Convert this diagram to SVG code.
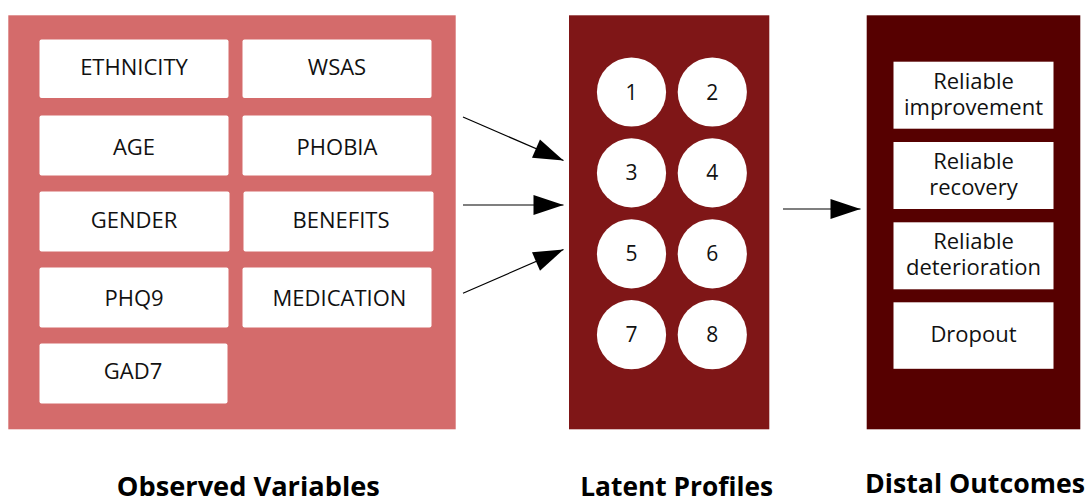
<svg xmlns="http://www.w3.org/2000/svg" width="1091" height="501" viewBox="0 0 1091 501">
  <style>
    .panel-obs { fill: #d46b6b; }
    .panel-lat { fill: #7f1617; }
    .panel-out { fill: #560000; }
    .var { fill: #ffffff; }
    .prof { fill: #ffffff; }
    .outc { fill: #ffffff; }
    .t { font-family: "Open Sans", "DejaVu Sans", sans-serif; font-size: 22px; fill: #111111; text-anchor: middle; }
    .num { font-family: "Open Sans", "DejaVu Sans", sans-serif; font-size: 21px; fill: #111111; text-anchor: middle; }
    .title { font-family: "Open Sans", "DejaVu Sans", sans-serif; font-size: 27px; font-weight: bold; fill: #000000; text-anchor: middle; }
    .conn { stroke: #000000; stroke-width: 1.2; fill: none; marker-end: url(#head); }
  </style>
  <defs>
    <marker id="head" markerUnits="userSpaceOnUse" markerWidth="30" markerHeight="20" refX="30" refY="10" orient="auto" overflow="visible">
      <path d="M0,0 L30,10 L0,20 z" fill="#000000"/>
    </marker>
  </defs>

  <!-- observed variables: 2-column grid of white cards on a pink panel -->
  <g id="observed-variables">
    <rect class="panel-obs" x="8.3" y="15.3" width="447.4" height="414"/>
    <g id="var-ethnicity"><rect class="var" x="39.5" y="39.5" width="189" height="58.5" rx="2"/><text class="t" x="134" y="75">ETHNICITY</text></g>
    <g id="var-wsas"><rect class="var" x="242.5" y="39.5" width="189" height="58.5" rx="2"/><text class="t" x="337" y="75">WSAS</text></g>
    <g id="var-age"><rect class="var" x="39.5" y="115.5" width="189" height="60" rx="2"/><text class="t" x="134" y="154.5">AGE</text></g>
    <g id="var-phobia"><rect class="var" x="242.5" y="115.5" width="189" height="60" rx="2"/><text class="t" x="337" y="154.5">PHOBIA</text></g>
    <g id="var-gender"><rect class="var" x="39.5" y="191.5" width="190" height="60" rx="2"/><text class="t" x="134" y="228">GENDER</text></g>
    <g id="var-benefits"><rect class="var" x="243.5" y="191.5" width="190" height="60" rx="2"/><text class="t" x="341" y="228">BENEFITS</text></g>
    <g id="var-phq9"><rect class="var" x="39.5" y="267.5" width="189" height="60" rx="2"/><text class="t" x="134" y="305.5">PHQ9</text></g>
    <g id="var-medication"><rect class="var" x="242.5" y="267.5" width="189" height="60" rx="2"/><text class="t" x="339.5" y="305.5">MEDICATION</text></g>
    <g id="var-gad7"><rect class="var" x="39.5" y="343.5" width="188" height="60" rx="2"/><text class="t" x="133" y="379">GAD7</text></g>
  </g>

  <!-- latent profiles: 4x2 grid of numbered circles -->
  <g id="latent-profiles">
    <rect class="panel-lat" x="569" y="15.3" width="200.3" height="414"/>
    <g id="profile-1"><circle class="prof" cx="631.5" cy="92" r="34.6"/><text class="num" x="631.5" y="99.5">1</text></g>
    <g id="profile-2"><circle class="prof" cx="712.3" cy="92" r="34.6"/><text class="num" x="712.3" y="99.5">2</text></g>
    <g id="profile-3"><circle class="prof" cx="631.5" cy="172.9" r="34.6"/><text class="num" x="631.5" y="180.4">3</text></g>
    <g id="profile-4"><circle class="prof" cx="712.3" cy="172.9" r="34.6"/><text class="num" x="712.3" y="180.4">4</text></g>
    <g id="profile-5"><circle class="prof" cx="631.5" cy="253.8" r="34.6"/><text class="num" x="631.5" y="261.3">5</text></g>
    <g id="profile-6"><circle class="prof" cx="712.3" cy="253.8" r="34.6"/><text class="num" x="712.3" y="261.3">6</text></g>
    <g id="profile-7"><circle class="prof" cx="631.5" cy="334.7" r="34.6"/><text class="num" x="631.5" y="342.2">7</text></g>
    <g id="profile-8"><circle class="prof" cx="712.3" cy="334.7" r="34.6"/><text class="num" x="712.3" y="342.2">8</text></g>
  </g>

  <!-- distal outcomes: stacked white cards on a dark panel -->
  <g id="distal-outcomes">
    <rect class="panel-out" x="866.7" y="15.3" width="213.6" height="414"/>
    <g id="out-improvement"><rect class="outc" x="893.5" y="61.7" width="160" height="67"/><text class="t" x="973.5" y="89"><tspan x="973.5">Reliable</tspan><tspan x="973.5" dy="25.5">improvement</tspan></text></g>
    <g id="out-recovery"><rect class="outc" x="893.5" y="142" width="160" height="67"/><text class="t" x="973.5" y="169"><tspan x="973.5">Reliable</tspan><tspan x="973.5" dy="25.5">recovery</tspan></text></g>
    <g id="out-deterioration"><rect class="outc" x="893.5" y="222.3" width="160" height="67"/><text class="t" x="973.5" y="248.5"><tspan x="973.5">Reliable</tspan><tspan x="973.5" dy="26">deterioration</tspan></text></g>
    <g id="out-dropout"><rect class="outc" x="893.5" y="302.3" width="160" height="66.5"/><text class="t" x="973.5" y="342">Dropout</text></g>
  </g>

  <g id="connectors">
    <line class="conn" x1="463" y1="117" x2="563.5" y2="160.5"/>
    <line class="conn" x1="463" y1="205" x2="563.5" y2="205"/>
    <line class="conn" x1="463" y1="293.3" x2="563.5" y2="249.5"/>
    <line class="conn" x1="783" y1="209" x2="860.5" y2="209"/>
  </g>

  <g id="titles">
    <text class="title" x="248.3" y="495.5" textLength="263" lengthAdjust="spacingAndGlyphs">Observed Variables</text>
    <text class="title" x="676.7" y="496" textLength="193" lengthAdjust="spacingAndGlyphs">Latent Profiles</text>
    <text class="title" x="975" y="493" textLength="220" lengthAdjust="spacingAndGlyphs">Distal Outcomes</text>
  </g>
</svg>
